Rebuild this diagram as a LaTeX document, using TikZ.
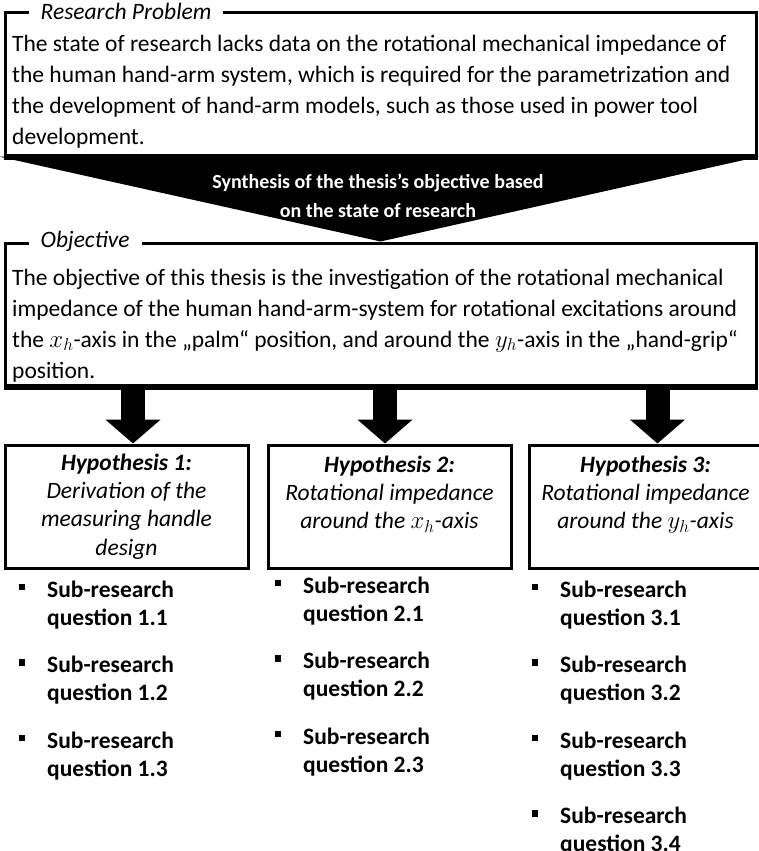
\documentclass[tikz,border=0pt]{standalone}
\usepackage{fontspec}
\setmainfont{Carlito}
\usetikzlibrary{positioning,arrows.meta,calc}
\tikzset{
  frame/.style={draw,line width=3pt,minimum width=751pt,minimum height=142pt,inner sep=0pt},
  frametitle/.style={fill=white,inner xsep=12pt,inner ysep=2pt,font=\fontsize{23.5}{28}\selectfont\itshape},
  bodytext/.style={inner sep=0pt,align=left,font=\fontsize{23.5}{30.8}\selectfont},
  synthtext/.style={text=white,align=center,inner sep=0pt,font=\fontsize{20}{29}\selectfont\bfseries},
  hypbox/.style={draw,line width=3pt,minimum height=123pt,align=center,inner sep=0pt,font=\fontsize{23.5}{28.3}\selectfont\itshape},
  subq/.style={inner sep=0pt,align=left,font=\fontsize{23.5}{28}\selectfont\bfseries},
  blockarrow/.style={line width=24pt,-{Triangle[width=54pt,length=24pt]}},
}
\newcommand{\sqbullet}{\llap{\rule[7pt]{6.5pt}{6.5pt}\hspace{22pt}}}

\begin{document}
\begin{tikzpicture}[x=1pt,y=1pt]
  \useasboundingbox (0,0) rectangle (758,-851);
  % research problem
  \node[frame] (problem) at (380.5,-84) {};
  \node[frametitle,anchor=west] (problemtitle) at ($(problem.north west)+(25,0)$) {Research Problem};
  \node[bodytext,anchor=base west] (problemtext) at (12,-144) {The state of research lacks data on the rotational mechanical impedance of\\the human hand-arm system, which is required for the parametrization and\\the development of hand-arm models, such as those used in power tool\\development.};
  \draw[line width=5pt] ([yshift=-1pt]problem.south west) -- ([yshift=-1pt]problem.south east);
  % objective
  \node[frame] (objective) at (380.5,-314) {};
  \node[frametitle,anchor=west] (objectivetitle) at ($(objective.north west)+(25,0)$) {Objective};
  \node[bodytext,anchor=base west] (objectivetext) at (12,-378) {The objective of this thesis is the investigation of the rotational mechanical\\impedance of the human hand-arm-system for rotational excitations around\\the $x_h$-axis in the „palm“ position, and around the $y_h$-axis in the „hand-grip“\\position.};
  \draw[line width=5pt] ([yshift=-1pt]objective.south west) -- ([yshift=-1pt]objective.south east);
  % synthesis funnel
  \fill ([xshift=-5pt]problem.south west) -- ([xshift=2pt]problem.south east) -- (objective.north) -- cycle;
  \node[synthtext] (synthesis) at (378,-196) {Synthesis of the thesis’s objective based\\on the state of research};
  % hypotheses
  \node[hypbox,minimum width=243pt] (h1) at (126.5,-506.5) {\textbf{Hypothesis 1:}\\Derivation of the\\measuring handle\\design};
  \node[hypbox,minimum width=243pt,right=17pt of h1] (h2) {\textbf{Hypothesis 2:}\\Rotational impedance\\around the $x_h$-axis\\\mbox{}};
  \node[hypbox,minimum width=233pt,right=15pt of h2] (h3) {\textbf{Hypothesis 3:}\\Rotational impedance\\around the $y_h$-axis\\\mbox{}};
  \draw[blockarrow] ($(h1.north |- objective.south)+(6.5,0)$) -- ($(h1.north)+(6.5,0)$);
  \draw[blockarrow] ($(h2.north |- objective.south)+(-4.5,0)$) -- ($(h2.north)+(-4.5,0)$);
  \draw[blockarrow] ($(h3.north |- objective.south)+(12,0)$) -- ($(h3.north)+(12,0)$);
  % sub-research questions
  \node[subq,anchor=base west] (q11) at (47,-625) {\sqbullet Sub-research\\question 1.1};
  \node[subq,below=27pt of q11] (q12) {\sqbullet Sub-research\\question 1.2};
  \node[subq,below=27pt of q12] (q13) {\sqbullet Sub-research\\question 1.3};
  \node[subq,anchor=base west] (q21) at (303,-621) {\sqbullet Sub-research\\question 2.1};
  \node[subq,below=27pt of q21] (q22) {\sqbullet Sub-research\\question 2.2};
  \node[subq,below=27pt of q22] (q23) {\sqbullet Sub-research\\question 2.3};
  \node[subq,anchor=base west] (q31) at (560,-625) {\sqbullet Sub-research\\question 3.1};
  \node[subq,below=27pt of q31] (q32) {\sqbullet Sub-research\\question 3.2};
  \node[subq,below=27pt of q32] (q33) {\sqbullet Sub-research\\question 3.3};
  \node[subq,below=27pt of q33] (q34) {\sqbullet Sub-research\\question 3.4};
\end{tikzpicture}
\end{document}
